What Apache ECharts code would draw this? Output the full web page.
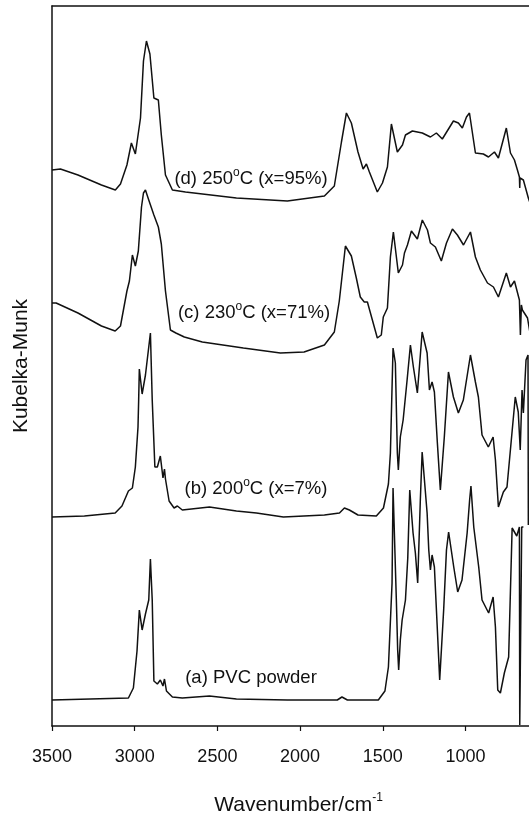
<!DOCTYPE html>
<html>
<head>
<meta charset="utf-8">
<script src="https://cdn.jsdelivr.net/npm/echarts@6/dist/echarts.min.js"></script>
<style>
  html, body { margin: 0; padding: 0; background: #fff; }
  #chart { width: 529px; height: 817px; }
</style>
</head>
<body>
<div id="chart"></div>
<script>
// x ticks (cm-1), y is Kubelka-Munk in arbitrary offset units
const xTicks = [3500, 3000, 2500, 2000, 1500, 1000];

// (a) PVC powder
const traceA = [
  [3500, 26], [3038, 28], [3008, 38], [2986, 75], [2972, 116], [2955, 96], [2935, 112],
  [2915, 126], [2905, 167], [2894, 126], [2884, 45], [2863, 42], [2845, 46], [2829, 40],
  [2820, 47], [2808, 35], [2772, 29], [2712, 28], [2548, 30], [2385, 27], [2077, 26],
  [1775, 26], [1747, 29], [1714, 26], [1527, 26], [1487, 35], [1466, 59], [1444, 143],
  [1438, 238], [1418, 126], [1410, 76], [1404, 56], [1394, 86], [1383, 106], [1363, 126],
  [1349, 168], [1337, 236], [1317, 193], [1303, 173], [1289, 143], [1273, 226], [1262, 274],
  [1232, 213], [1222, 176], [1212, 156], [1202, 171], [1188, 159], [1172, 103], [1156, 46],
  [1132, 116], [1115, 176], [1102, 194], [1071, 159], [1047, 134], [1021, 146], [990, 193],
  [975, 226], [967, 240], [950, 199], [920, 159], [900, 126], [860, 113], [833, 129],
  [819, 99], [805, 36], [789, 33], [765, 53], [739, 69], [718, 198], [712, 199],
  [690, 190], [674, 199], [672, 1], [662, 1], [660, 199], [650, 199]
];

// (b) 200°C (x=7%)
const traceB = [
  [3500, 209], [3304, 210], [3118, 213], [3077, 220], [3038, 235], [3014, 238], [2996, 259],
  [2980, 299], [2976, 326], [2972, 357], [2955, 332], [2935, 351], [2905, 393], [2894, 326],
  [2878, 259], [2863, 259], [2845, 270], [2829, 248], [2820, 257], [2814, 247], [2792, 225],
  [2762, 218], [2742, 220], [2712, 216], [2548, 219], [2385, 215], [2264, 213], [2101, 209],
  [1853, 211], [1762, 213], [1732, 218], [1702, 216], [1650, 211], [1539, 210], [1496, 218],
  [1466, 242], [1454, 273], [1438, 378], [1424, 363], [1412, 273], [1406, 256], [1394, 289],
  [1377, 306], [1353, 346], [1333, 381], [1315, 359], [1291, 333], [1262, 394], [1232, 373],
  [1218, 336], [1202, 344], [1188, 334], [1170, 283], [1152, 236], [1128, 289], [1103, 354],
  [1073, 329], [1043, 313], [1013, 326], [970, 371], [940, 344], [922, 329], [900, 291],
  [862, 279], [833, 289], [819, 266], [801, 219], [771, 234], [749, 239], [699, 329],
  [681, 314], [669, 276], [658, 336], [650, 313], [634, 366], [622, 371], [620, 201]
];

// (c) 230°C (x=71%)
const traceC = [
  [3500, 423], [3475, 423], [3343, 413], [3201, 400], [3118, 395], [3086, 400], [3047, 435],
  [3032, 445], [3014, 471], [2996, 460], [2978, 475], [2959, 519], [2947, 533], [2935, 536],
  [2923, 534], [2915, 526], [2884, 511], [2857, 499], [2839, 482], [2814, 435], [2784, 396],
  [2751, 393], [2700, 389], [2591, 384], [2343, 378], [2119, 373], [1976, 374], [1853, 381],
  [1793, 394], [1763, 425], [1726, 480], [1690, 470], [1660, 448], [1636, 429], [1612, 424],
  [1593, 424], [1563, 406], [1533, 388], [1509, 391], [1497, 409], [1472, 418], [1454, 469],
  [1436, 494], [1406, 453], [1381, 461], [1369, 473], [1351, 481], [1327, 495], [1291, 487],
  [1261, 506], [1230, 496], [1212, 483], [1182, 479], [1146, 465], [1115, 483], [1079, 497],
  [1049, 491], [1012, 481], [970, 494], [940, 469], [910, 456], [867, 443], [831, 439],
  [801, 429], [753, 453], [728, 439], [704, 445], [674, 426], [668, 391], [662, 421],
  [656, 416], [625, 408], [613, 396], [590, 381]
];

// (d) 250°C (x=95%)
const traceD = [
  [3500, 556], [3449, 557], [3343, 551], [3201, 541], [3117, 536], [3086, 542], [3047, 561],
  [3020, 583], [2996, 572], [2965, 608], [2947, 665], [2929, 685], [2908, 672], [2884, 628],
  [2857, 626], [2839, 591], [2814, 551], [2772, 536], [2693, 534], [2385, 528], [2077, 525],
  [1853, 530], [1793, 540], [1750, 584], [1720, 613], [1690, 603], [1650, 574], [1619, 557],
  [1599, 562], [1581, 554], [1533, 534], [1502, 543], [1472, 559], [1448, 602], [1412, 574],
  [1381, 581], [1363, 591], [1321, 595], [1261, 593], [1212, 589], [1176, 593], [1140, 587],
  [1073, 605], [1043, 603], [1019, 598], [994, 609], [976, 613], [940, 573], [892, 572],
  [861, 569], [825, 574], [801, 568], [753, 598], [728, 573], [704, 566], [686, 556],
  [674, 549], [672, 538], [670, 548], [650, 546], [620, 528], [595, 516]
];

const traceNames = ['(a) PVC powder', '(b) 200°C (x=7%)', '(c) 230°C (x=71%)', '(d) 250°C (x=95%)'];

const myChart = echarts.init(document.getElementById('chart'));

const labelFont = 'Liberation Sans, Arial, sans-serif';
function curveLabel(text, cx, cy) {
  return {
    type: 'text',
    x: cx,
    y: cy,
    style: {
      text: text,
      fill: '#111',
      fontSize: 18.5,
      fontFamily: labelFont,
      lineHeight: 24,
      align: 'center',
      verticalAlign: 'middle',
      rich: {
        s: { fontSize: 12, fontFamily: labelFont, fill: '#111', lineHeight: 12, verticalAlign: 'top' }
      }
    }
  };
}

function makeSeries(name, data) {
  return {
    name: name,
    type: 'line',
    data: data,
    showSymbol: false,
    symbol: 'none',
    smooth: false,
    clip: true,
    lineStyle: { color: '#111', width: 1.5 }
  };
}

const option = {
  backgroundColor: '#fff',
  animation: false,
  grid: {
    left: 52,
    right: 0,
    top: 6,
    bottom: 91,
    outerBoundsMode: 'none',
    containLabel: false
  },
  xAxis: [{
    type: 'value',
    inverse: true,
    min: 616,
    max: 3500,
    name: 'Wavenumber/cm{s|-1}',
    nameLocation: 'middle',
    nameGap: 66,
    nameTextStyle: {
      fontFamily: labelFont,
      fontSize: 21,
      color: '#111',
      padding: [0, 0, 0, 16],
      lineHeight: 26,
      rich: {
        s: { fontSize: 12, fontFamily: labelFont, color: '#111', lineHeight: 12, verticalAlign: 'top' }
      }
    },
    axisLine: { show: true, lineStyle: { color: '#111', width: 1.5 } },
    axisTick: { show: true, length: 5, customValues: xTicks, lineStyle: { color: '#111', width: 1.2 } },
    axisLabel: {
      fontFamily: labelFont,
      fontSize: 18,
      color: '#111',
      margin: 22,
      customValues: xTicks,
      formatter: function (v) { return String(v); }
    },
    splitLine: { show: false }
  }, {
    // top frame line
    type: 'value',
    position: 'top',
    inverse: true,
    min: 616,
    max: 3500,
    axisLine: { show: true, lineStyle: { color: '#111', width: 1.5 } },
    axisTick: { show: false },
    axisLabel: { show: false },
    splitLine: { show: false }
  }],
  yAxis: {
    type: 'value',
    min: 0,
    max: 720,
    name: 'Kubelka-Munk',
    nameLocation: 'middle',
    nameGap: 20,
    nameTextStyle: { fontFamily: labelFont, fontSize: 21, color: '#111' },
    axisLine: { show: true, lineStyle: { color: '#111', width: 1.5 } },
    axisTick: { show: false },
    axisLabel: { show: false },
    splitLine: { show: false }
  },
  series: [
    makeSeries(traceNames[0], traceA),
    makeSeries(traceNames[1], traceB),
    makeSeries(traceNames[2], traceC),
    makeSeries(traceNames[3], traceD)
  ],
  graphic: [
    curveLabel('(d) 250{s|o}C (x=95%)', 251, 179),
    curveLabel('(c) 230{s|o}C (x=71%)', 254, 313),
    curveLabel('(b) 200{s|o}C (x=7%)', 256, 489),
    curveLabel('(a) PVC powder', 251, 678)
  ]
};

myChart.setOption(option);
window.addEventListener('resize', function () {
  myChart.resize();
});
</script>
</body>
</html>
